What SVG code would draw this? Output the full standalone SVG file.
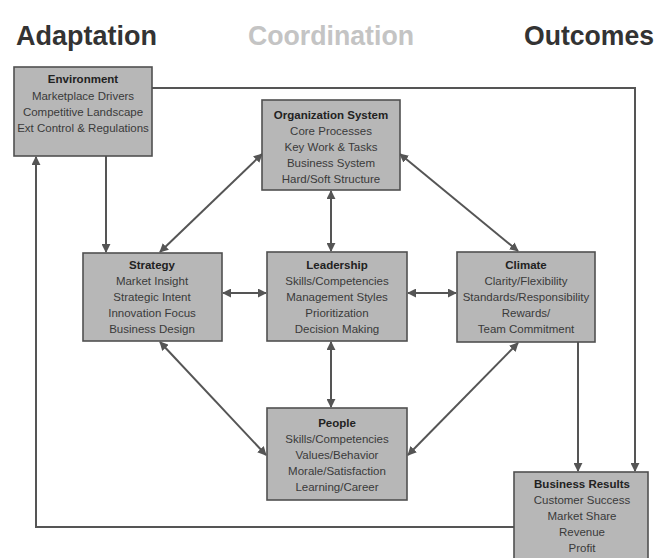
<svg xmlns="http://www.w3.org/2000/svg" width="664" height="558" viewBox="0 0 664 558">
<defs>
<marker id="ah" viewBox="0 0 10 10" refX="9" refY="5" markerWidth="4.5" markerHeight="4.5" orient="auto-start-reverse" markerUnits="strokeWidth">
<path d="M0,0 L10,5 L0,10 z" fill="#555"/>
</marker>
<style>
.box{fill:#b7b7b7;stroke:#505050;stroke-width:1.6}
.ttl{font-family:"Liberation Sans",Arial,sans-serif;font-weight:bold;font-size:28px}
.nt{font-family:"Liberation Sans",Arial,sans-serif;font-size:11.5px;fill:#3a3a3a;text-anchor:middle}
.nt .h{font-weight:bold;fill:#222}
.c{fill:none;stroke:#555;stroke-width:2}
.a{marker-end:url(#ah)}
.d{marker-start:url(#ah);marker-end:url(#ah)}
</style>
</defs>
<rect width="664" height="558" fill="#fff"/>
<g id="titles">
<text class="ttl" x="16" y="45" fill="#333" textLength="141" lengthAdjust="spacingAndGlyphs">Adaptation</text>
<text class="ttl" x="248" y="45" fill="#c4c4c4" textLength="166" lengthAdjust="spacingAndGlyphs">Coordination</text>
<text class="ttl" x="524" y="45" fill="#333" textLength="130" lengthAdjust="spacingAndGlyphs">Outcomes</text>
</g>
<g id="connectors">
<polyline class="c a" points="514,527 36,527 36,157"/>
<polyline class="c a" points="152,88 635,88 635,471"/>
<line class="c a" x1="106" y1="156" x2="106" y2="252"/>
<line class="c a" x1="578" y1="342" x2="578" y2="471"/>
<line class="c d" x1="160" y1="252" x2="262" y2="154"/>
<line class="c d" x1="400" y1="154" x2="518" y2="251"/>
<line class="c d" x1="160" y1="342" x2="266" y2="455"/>
<line class="c d" x1="518" y1="343" x2="408" y2="455"/>
<line class="c d" x1="331" y1="191" x2="331" y2="251"/>
<line class="c d" x1="331" y1="342" x2="331" y2="407"/>
<line class="c d" x1="223" y1="293" x2="266" y2="293"/>
<line class="c d" x1="408" y1="293" x2="456" y2="293"/>
</g>
<g id="environment">
<rect class="box" x="14" y="67" width="138" height="89"/>
<text class="nt"><tspan class="h" x="83" y="83">Environment</tspan><tspan x="83" y="100">Marketplace Drivers</tspan><tspan x="83" y="116">Competitive Landscape</tspan><tspan x="83" y="132">Ext Control &amp; Regulations</tspan></text>
</g>
<g id="organization-system">
<rect class="box" x="262" y="100" width="138" height="90"/>
<text class="nt"><tspan class="h" x="331" y="119">Organization System</tspan><tspan x="331" y="135">Core Processes</tspan><tspan x="331" y="151">Key Work &amp; Tasks</tspan><tspan x="331" y="167">Business System</tspan><tspan x="331" y="183">Hard/Soft Structure</tspan></text>
</g>
<g id="strategy">
<rect class="box" x="83" y="253" width="139" height="88"/>
<text class="nt"><tspan class="h" x="152" y="269">Strategy</tspan><tspan x="152" y="285">Market Insight</tspan><tspan x="152" y="301">Strategic Intent</tspan><tspan x="152" y="317">Innovation Focus</tspan><tspan x="152" y="333">Business Design</tspan></text>
</g>
<g id="leadership">
<rect class="box" x="267" y="252" width="140" height="89"/>
<text class="nt"><tspan class="h" x="337" y="269">Leadership</tspan><tspan x="337" y="285">Skills/Competencies</tspan><tspan x="337" y="301">Management Styles</tspan><tspan x="337" y="317">Prioritization</tspan><tspan x="337" y="333">Decision Making</tspan></text>
</g>
<g id="climate">
<rect class="box" x="457" y="252" width="138" height="90"/>
<text class="nt"><tspan class="h" x="526" y="269">Climate</tspan><tspan x="526" y="285">Clarity/Flexibility</tspan><tspan x="526" y="301">Standards/Responsibility</tspan><tspan x="526" y="317">Rewards/</tspan><tspan x="526" y="333">Team Commitment</tspan></text>
</g>
<g id="people">
<rect class="box" x="267" y="408" width="140" height="92"/>
<text class="nt"><tspan class="h" x="337" y="427">People</tspan><tspan x="337" y="443">Skills/Competencies</tspan><tspan x="337" y="459">Values/Behavior</tspan><tspan x="337" y="475">Morale/Satisfaction</tspan><tspan x="337" y="491">Learning/Career</tspan></text>
</g>
<g id="business-results">
<rect class="box" x="514" y="472" width="134" height="92"/>
<text class="nt"><tspan class="h" x="582" y="488">Business Results</tspan><tspan x="582" y="504">Customer Success</tspan><tspan x="582" y="520">Market Share</tspan><tspan x="582" y="536">Revenue</tspan><tspan x="582" y="552">Profit</tspan></text>
</g>
</svg>
